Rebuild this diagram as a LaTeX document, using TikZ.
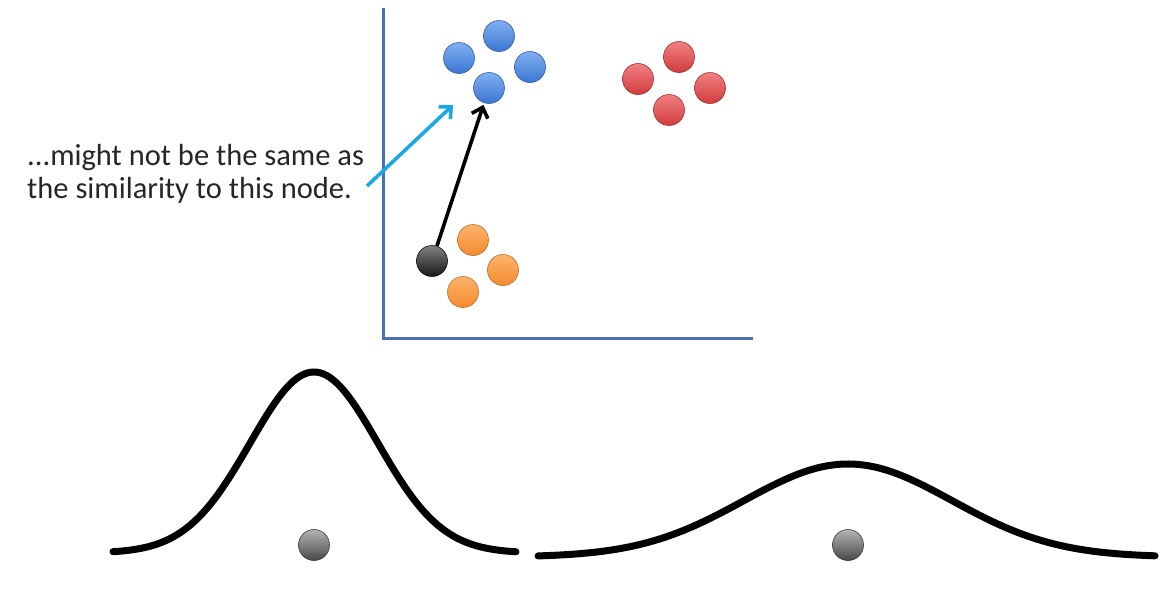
\documentclass[tikz,border=0pt]{standalone}
\usepackage{fontspec}
\setmainfont{Carlito}
\usetikzlibrary{arrows.meta}
\definecolor{axisblue}{RGB}{72,112,180}
\definecolor{arrcyan}{RGB}{28,168,228}
\definecolor{bluehi}{RGB}{128,176,242}
\definecolor{bluelo}{RGB}{60,118,210}
\definecolor{redhi}{RGB}{240,128,128}
\definecolor{redlo}{RGB}{210,60,62}
\definecolor{orahi}{RGB}{252,180,108}
\definecolor{oralo}{RGB}{244,138,46}
\definecolor{darkhi}{RGB}{130,130,130}
\definecolor{darklo}{RGB}{22,22,22}
\definecolor{grayhi}{RGB}{180,180,180}
\definecolor{graylo}{RGB}{72,72,72}

\begin{document}
\begin{tikzpicture}[x=1pt,y=-1pt,
   dot/.style 2 args={circle,minimum size=31pt,inner sep=0pt,top color=#1,bottom color=#2,
             draw=#2!80!black,line width=0.6pt},
   axis/.style={draw=axisblue,line width=3pt},
   curve/.style={line width=7pt,line cap=round,smooth},
   arr/.style={line width=3.6pt,-{Straight Barb[length=9pt,width=17pt,line width=3.6pt]}}]
  \useasboundingbox (0,0) rectangle (1167,590);
  % axes of the feature space
  \coordinate (ytop) at (383,8);
  \coordinate (orig) at (383,338);
  \coordinate (xend) at (753,338);
  \draw[axis] (ytop) -- (orig) -- (xend);
  % clusters
  \foreach \n/\x/\y in {1/459/58,2/499/36,3/530/67,4/489/88}
    \node[dot={bluehi}{bluelo}] (b\n) at (\x,\y) {};
  \foreach \n/\x/\y in {1/679/57,2/638/79,3/710/88,4/669/110}
    \node[dot={redhi}{redlo}] (r\n) at (\x,\y) {};
  \foreach \n/\x/\y in {1/473/240,2/503/270,3/463/292}
    \node[dot={orahi}{oralo}] (o\n) at (\x,\y) {};
  \node[dot={darkhi}{darklo}] (qry) at (432,261) {};
  \draw[arr,shorten >=2pt] (qry) -- (b4);
  % caption
  \node[anchor=west,align=left,inner sep=0pt,font=\fontsize{30.5}{33}\selectfont,text=black!85]
    (txt) at (27,174) {...might not be the same as\\the similarity to this node.};
  \coordinate (cstart) at (367,186);
  \coordinate (ctip) at (453,105);
  \draw[arr,arrcyan] (cstart) -- (ctip);
  % similarity kernels
  \draw[curve] plot[domain=113:516,samples=120] (\x,{553-181*exp(-0.5*((\x-314)/64)^2)});
  \draw[curve] plot[domain=538:1155,samples=140] (\x,{557-93*exp(-0.5*((\x-848)/104)^2)});
  \node[dot={grayhi}{graylo}] (ka) at (314,545) {};
  \node[dot={grayhi}{graylo}] (kb) at (848,545) {};
\end{tikzpicture}
\end{document}
